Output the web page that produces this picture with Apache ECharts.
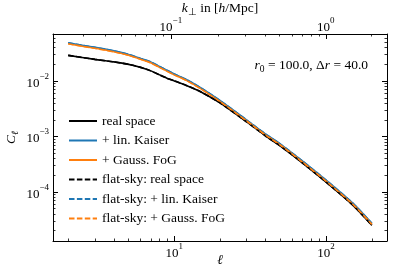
<!DOCTYPE html>
<html><head><meta charset="utf-8">
<script src="https://cdn.jsdelivr.net/npm/echarts@6/dist/echarts.min.js"></script>
<style>html,body{margin:0;padding:0;background:#fff}#c{width:407px;height:267px}</style>
</head><body><div id="c"></div>
<script>
// multipole ell and angular power spectra C_ell
const ell = [2, 3, 4, 5, 6, 7, 8, 9, 10, 12, 15, 20, 30, 40, 50, 70, 100, 150, 200];
const clReal = [0.02915, 0.02468, 0.02224, 0.02004, 0.01769, 0.01529, 0.01294, 0.01119, 0.01008, 0.008358, 0.006378, 0.004035, 0.001829, 0.001021, 0.000673, 0.0003317, 0.0001504, 5.77e-5, 2.51e-5];
const clKaiser = [0.04895, 0.04058, 0.03508, 0.03032, 0.02567, 0.02219, 0.01840, 0.01557, 0.01346, 0.01071, 0.00752, 0.004465, 0.001983, 0.001107, 0.000730, 0.000360, 0.0001631, 6.26e-5, 2.722e-5];
const clFoG = [0.04707, 0.03902, 0.03373, 0.02915, 0.02468, 0.02134, 0.01769, 0.01497, 0.01294, 0.01030, 0.00723, 0.004293, 0.001907, 0.001064, 0.000702, 0.000346, 0.0001568, 6.02e-5, 2.617e-5];
const clFlatReal = [0.02915, 0.02468, 0.02224, 0.02004, 0.01769, 0.01529, 0.01294, 0.01119, 0.01008, 0.008358, 0.006378, 0.004035, 0.001829, 0.001021, 0.000673, 0.0003317, 0.0001504, 5.77e-5, 2.51e-5];
const clFlatKaiser = [0.04895, 0.04058, 0.03508, 0.03032, 0.02567, 0.02219, 0.01840, 0.01557, 0.01346, 0.01071, 0.00752, 0.004465, 0.001983, 0.001107, 0.000730, 0.000360, 0.0001631, 6.26e-5, 2.722e-5];
const clFlatFoG = [0.04707, 0.03902, 0.03373, 0.02915, 0.02468, 0.02134, 0.01769, 0.01497, 0.01294, 0.01030, 0.00723, 0.004293, 0.001907, 0.001064, 0.000702, 0.000346, 0.0001568, 6.02e-5, 2.617e-5];
const seriesNames = ['real space', '+ lin. Kaiser', '+ Gauss. FoG', 'flat-sky: real space', 'flat-sky: + lin. Kaiser', 'flat-sky: + Gauss. FoG'];

// axis ranges and ticks
const ellRange = [1.589, 251.8];
const clRange = [1.30e-5, 0.0708];
const ellMajorTicks = [10, 100];
const ellMinorTicks = [2, 3, 4, 5, 6, 7, 8, 9, 20, 30, 40, 50, 60, 70, 80, 90, 200];
const kMajorTicks = [0.1, 1];
const kMinorTicks = [0.02, 0.03, 0.04, 0.05, 0.06, 0.07, 0.08, 0.09, 0.2, 0.3, 0.4, 0.5, 0.6, 0.7, 0.8, 0.9, 2];
const clMajorTicks = [1e-4, 1e-3, 1e-2];
const clMinorTicks = [2e-5, 3e-5, 4e-5, 5e-5, 6e-5, 7e-5, 8e-5, 9e-5, 2e-4, 3e-4, 4e-4, 5e-4, 6e-4, 7e-4, 8e-4, 9e-4, 2e-3, 3e-3, 4e-3, 5e-3, 6e-3, 7e-3, 8e-3, 9e-3, 2e-2, 3e-2, 4e-2, 5e-2, 6e-2, 7e-2];
const r0 = 100.0, dr = 40.0;

// k_perp = (ell + 1/2) / r0  ->  position of a k tick on the ell scale
const kToEll = k => k * r0 - 0.5;
const ellToK = l => (l + 0.5) / r0;

const FONT = 'Liberation Serif';
const BLACK = '#000';
const supRich = {
  b: {fontFamily: FONT, fontSize: 13, fontWeight: 'normal', color: BLACK, lineHeight: 18, verticalAlign: 'bottom'},
  s: {fontFamily: FONT, fontSize: 9, fontWeight: 'normal', color: BLACK, lineHeight: 9, verticalAlign: 'top'}
};
const subRich = {
  i: {fontFamily: FONT, fontSize: 13.5, fontWeight: 'normal', fontStyle: 'italic', color: BLACK, lineHeight: 16, verticalAlign: 'top'},
  n: {fontFamily: FONT, fontSize: 13.5, fontWeight: 'normal', color: BLACK, lineHeight: 16, verticalAlign: 'top'},
  sub: {fontFamily: FONT, fontSize: 9.5, fontWeight: 'normal', color: BLACK, lineHeight: 9, verticalAlign: 'bottom'},
  subi: {fontFamily: FONT, fontSize: 9.5, fontWeight: 'normal', fontStyle: 'italic', color: BLACK, lineHeight: 9, verticalAlign: 'bottom'}
};
function pow10(v) {
  const e = Math.round(Math.log10(v));
  return '{b|10}{s|' + (e < 0 ? '\u2212' : '') + Math.abs(e) + '}';
}
const lineStyleAxis = {color: BLACK, width: 1};

function majorAxis(extra) {
  return Object.assign({
    type: 'log', logBase: 10, nameMoveOverlap: false,
    splitLine: {show: false}, minorTick: {show: false}, minorSplitLine: {show: false},
    axisLine: {show: true, lineStyle: lineStyleAxis}
  }, extra);
}
function minorAxis(pos, range, vals) {
  return {
    type: 'log', position: pos, min: range[0], max: range[1],
    splitLine: {show: false}, minorTick: {show: false},
    axisLine: {show: false},
    axisLabel: {show: false},
    axisTick: {show: true, inside: true, length: 2.5, customValues: vals, lineStyle: {color: BLACK, width: 0.8}}
  };
}

const ellKMajor = kMajorTicks.map(kToEll);
const ellKMinor = kMinorTicks.map(kToEll);

const xAxes = [
  majorAxis({
    position: 'bottom', min: ellRange[0], max: ellRange[1],
    axisTick: {show: true, inside: true, length: 5, customValues: ellMajorTicks, lineStyle: {color: BLACK, width: 1}},
    axisLabel: {show: true, customValues: ellMajorTicks, formatter: v => pow10(v), rich: supRich, margin: 10, verticalAlign: 'middle'},
    name: '{i|\u2113}', nameLocation: 'middle', nameGap: 12,
    nameTextStyle: {rich: subRich}
  }),
  minorAxis('bottom', ellRange, ellMinorTicks),
  majorAxis({
    position: 'top', min: ellRange[0], max: ellRange[1],
    axisTick: {show: true, inside: true, length: 5, customValues: ellKMajor, lineStyle: {color: BLACK, width: 1}},
    axisLabel: {show: true, customValues: ellKMajor, formatter: v => pow10(ellToK(v)), rich: supRich, margin: 9, verticalAlign: 'middle'},
    name: '{i|k}{sub|\u22A5}{n| in [}{i|h}{n|/Mpc]}', nameLocation: 'middle', nameGap: 17,
    nameTextStyle: {rich: subRich}
  }),
  minorAxis('top', ellRange, ellKMinor)
];
const yAxes = [
  majorAxis({
    position: 'left', min: clRange[0], max: clRange[1],
    axisTick: {show: true, inside: true, length: 5, customValues: clMajorTicks, lineStyle: {color: BLACK, width: 1}},
    axisLabel: {show: true, customValues: clMajorTicks, formatter: v => pow10(v), rich: supRich, margin: 4},
    name: '{i|C}{subi|\u2113}', nameLocation: 'middle', nameRotate: 90, nameGap: 33,
    nameTextStyle: {rich: subRich}
  }),
  minorAxis('left', clRange, clMinorTicks),
  majorAxis({
    position: 'right', min: clRange[0], max: clRange[1],
    axisTick: {show: true, inside: true, length: 5, customValues: clMajorTicks, lineStyle: {color: BLACK, width: 1}},
    axisLabel: {show: false}
  }),
  minorAxis('right', clRange, clMinorTicks)
];

const pts = arr => ell.map((l, i) => [l, arr[i]]);
const DASH = [5.5, 2.4];
function line(name, arr, color, dashed) {
  return {
    name, type: 'line', data: pts(arr), xAxisIndex: 0, yAxisIndex: 0,
    symbol: 'none', smooth: 0.2, silent: true,
    lineStyle: {color, width: 1.6, type: dashed ? DASH : 'solid'},
    itemStyle: {color}
  };
}

const chart = echarts.init(document.getElementById('c'), null, {renderer: 'canvas'});
chart.setOption({
  animation: false,
  backgroundColor: '#fff',
  grid: {left: 53, right: 20, top: 34, bottom: 26, outerBoundsMode: 'none'},
  xAxis: xAxes,
  yAxis: yAxes,
  title: {
    text: '{i|r}{sub|0}{n| = ' + r0.toFixed(1) + ', \u0394}{i|r}{n| = ' + dr.toFixed(1) + '}',
    right: 34, top: 53,
    textStyle: {fontWeight: 'normal', rich: subRich}
  },
  legend: {
    orient: 'vertical', left: 63, top: 109,
    itemWidth: 28, itemHeight: 14, itemGap: 5.5,
    itemStyle: {opacity: 0},
    textStyle: {fontFamily: FONT, fontSize: 13.5, color: BLACK},
    data: seriesNames
  },
  series: [
    line(seriesNames[0], clReal, '#000000', false),
    line(seriesNames[1], clKaiser, '#1f77b4', false),
    line(seriesNames[2], clFoG, '#ff7f0e', false),
    line(seriesNames[3], clFlatReal, '#000000', true),
    line(seriesNames[4], clFlatKaiser, '#1f77b4', true),
    line(seriesNames[5], clFlatFoG, '#ff7f0e', true)
  ]
});
</script></body></html>
